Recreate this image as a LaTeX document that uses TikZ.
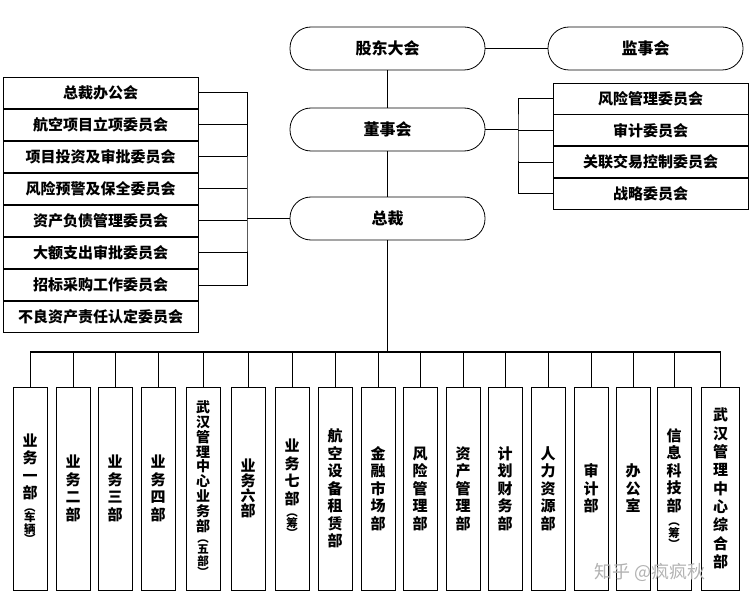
\documentclass[tikz,border=0pt]{standalone}
\usepackage{fontspec}
\setmainfont{Noto Sans CJK SC}
\usetikzlibrary{positioning}
\newcommand{\smc}[1]{{\fontsize{11.5}{12}\selectfont #1}}
\tikzset{
  pill/.style={draw, line width=0.8pt, rounded corners=21pt, minimum width=195pt,
               minimum height=43pt, inner sep=0pt, font=\bfseries\fontsize{16}{18}\selectfont},
  cbox/.style={draw, line width=0.8pt, minimum width=195pt, minimum height=31.25pt,
               inner sep=0pt, font=\bfseries\fontsize{15}{17}\selectfont},
  vbox/.style={draw, line width=0.8pt, minimum width=34pt, minimum height=203pt,
               inner sep=0pt, align=center, font=\bfseries\fontsize{15}{17.5}\selectfont},
  lnk/.style={line width=0.8pt},
  blnk/.style={line width=1.8pt},
}
\begin{document}
\begin{tikzpicture}[x=1pt, y=-1pt, node distance=0pt]
        \useasboundingbox (0,0) rectangle (755,604);
        % top level
        \node[pill](gd) at (387.5,48.5){股东大会};
        \node[pill](js) at (645.5,48.5){监事会};
        \node[pill](dsh) at (387.5,129.5){董事会};
        \node[pill](zc) at (387.5,218.5){总裁};
        % committees of the board
        \node[cbox, minimum height=31pt](r1) at (650.5,98.5){风险管理委员会};
        \node[cbox, minimum height=31pt, below=of r1](r2){审计委员会};
        \node[cbox, minimum height=31pt, below=of r2](r3){关联交易控制委员会};
        \node[cbox, minimum height=31pt, below=of r3](r4){战略委员会};
        % committees of the president
        \node[cbox](l1) at (100.5,92.6){总裁办公会};
        \node[cbox, below=of l1](l2){航空项目立项委员会};
        \node[cbox, below=of l2](l3){项目投资及审批委员会};
        \node[cbox, below=of l3](l4){风险预警及保全委员会};
        \node[cbox, below=of l4](l5){资产负债管理委员会};
        \node[cbox, below=of l5](l6){大额支出审批委员会};
        \node[cbox, below=of l6](l7){招标采购工作委员会};
        \node[cbox, below=of l7](l8){不良资产责任认定委员会};
        % departments
        \node[vbox](b1) at (30,488.5){业\\务\\一\\部\\[-5pt]\smc{︵}\\[-7pt]\smc{车}\\[-6pt]\smc{辆}\\[-7pt]\smc{︶}};
        \node[vbox](b2) at (73,488.5){业\\务\\二\\部};
        \node[vbox](b3) at (115,488.5){业\\务\\三\\部};
        \node[vbox](b4) at (158,488.5){业\\务\\四\\部};
        \node[vbox, font=\bfseries\fontsize{14}{14.8}\selectfont](b5) at (203,488.5){武\\汉\\管\\理\\中\\心\\业\\务\\部\\[-3pt]\smc{︵}\\[-4pt]\smc{五}\\[-3pt]\smc{部}\\[-4pt]\smc{︶}};
        \node[vbox, font=\bfseries\fontsize{15}{15}\selectfont](b6) at (248,488.5){业\\务\\六\\部};
        \node[vbox](b7) at (292,488.5){业\\务\\七\\部\\[-5pt]\smc{︵}\\[-7pt]\smc{筹}\\[-7pt]\smc{︶}};
        \node[vbox](b8) at (335,488.5){航\\空\\设\\备\\租\\赁\\部};
        \node[vbox](b9) at (378,488.5){金\\融\\市\\场\\部};
        \node[vbox](b10) at (420,488.5){风\\险\\管\\理\\部};
        \node[vbox](b11) at (463,488.5){资\\产\\管\\理\\部};
        \node[vbox](b12) at (505,488.5){计\\划\\财\\务\\部};
        \node[vbox](b13) at (548,488.5){人\\力\\资\\源\\部};
        \node[vbox](b14) at (591,488.5){审\\计\\部};
        \node[vbox](b15) at (633,488.5){办\\公\\室};
        \node[vbox](b16) at (674,488.5){信\\息\\科\\技\\部\\[-3pt]\smc{︵}\\[-6pt]\smc{筹}\\[-6pt]\smc{︶}};
        \node[vbox, minimum width=38pt, font=\bfseries\fontsize{15}{18.3}\selectfont](b17) at (720.5,488.5){武\\汉\\管\\理\\中\\心\\综\\合\\部};
        \node[text=black!30, font=\fontsize{18}{20}\selectfont](wm) at (650,572){知乎 @疯疯秋};
        % connectors
        \coordinate (rb) at (518,129.5);
        \coordinate (lb) at (247,218.5);
        \coordinate (bus) at (387.5,352);
        \draw[lnk](gd)--(js); \draw[lnk](gd)--(dsh); \draw[lnk](dsh)--(zc);
        \draw[lnk](dsh.east)--(rb);
        \draw[lnk](r1.west)-|(rb)|-(r4.west);
        \draw[lnk](r2.west)--(r2.west-|rb); \draw[lnk](r3.west)--(r3.west-|rb);
        \draw[lnk](l1.east)-|(lb)|-(l7.east);
        \draw[lnk](l2.east)--(l2.east-|lb); \draw[lnk](l3.east)--(l3.east-|lb);
        \draw[lnk](l4.east)--(l4.east-|lb); \draw[lnk](l5.east)--(l5.east-|lb);
        \draw[lnk](l6.east)--(l6.east-|lb);
        \draw[blnk](lb)--(zc.west);
        \draw[blnk](zc.south)--(bus);
        \draw[blnk](b1.north|-bus)--(b17.north|-bus);
        \draw[lnk](b1.north)--(b1.north|-bus); \draw[lnk](b2.north)--(b2.north|-bus);
        \draw[lnk](b3.north)--(b3.north|-bus); \draw[lnk](b4.north)--(b4.north|-bus);
        \draw[lnk](b5.north)--(b5.north|-bus); \draw[lnk](b6.north)--(b6.north|-bus);
        \draw[lnk](b7.north)--(b7.north|-bus); \draw[lnk](b8.north)--(b8.north|-bus);
        \draw[lnk](b9.north)--(b9.north|-bus); \draw[lnk](b10.north)--(b10.north|-bus);
        \draw[lnk](b11.north)--(b11.north|-bus); \draw[lnk](b12.north)--(b12.north|-bus);
        \draw[lnk](b13.north)--(b13.north|-bus); \draw[lnk](b14.north)--(b14.north|-bus);
        \draw[lnk](b15.north)--(b15.north|-bus); \draw[lnk](b16.north)--(b16.north|-bus);
        \draw[lnk](b17.north)--(b17.north|-bus);
      \end{tikzpicture}
\end{document}
